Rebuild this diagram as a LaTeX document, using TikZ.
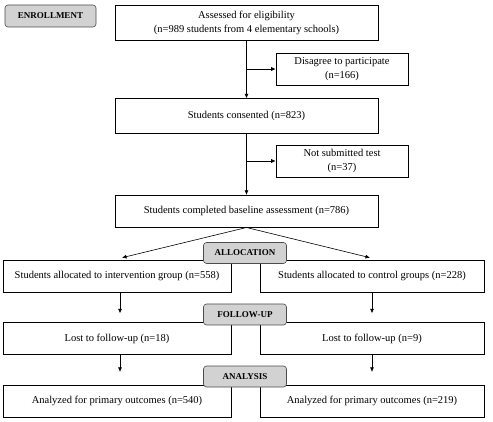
\documentclass[tikz,border=0pt]{standalone}
\usepackage{fontspec}
\setmainfont{Liberation Serif}
\usetikzlibrary{arrows.meta,positioning}

\begin{document}
\begin{tikzpicture}[
    x=1pt, y=-1pt,
    font=\fontsize{10.5}{14}\selectfont,
    >={Latex[length=4.5pt,width=4pt]},
    block/.style={draw, line width=0.6pt, align=center, inner sep=1mm},
    wide/.style={block, minimum width=263, minimum height=35},
    side/.style={block, minimum width=132, minimum height=32},
    half/.style={block, minimum width=228, minimum height=32},
    stage/.style={draw=black!70, line width=0.6pt, rounded corners=3pt, fill=gray!35, font=\bfseries\fontsize{9}{10}\selectfont, minimum width=83, minimum height=21},
    line/.style={->, line width=0.6pt}
]
\useasboundingbox (0,0) rectangle (493,422);

% Enrollment (top column)
\node[stage, minimum width=91, minimum height=22] (enroll) at (50.5,16) {ENROLLMENT};
\node[wide] (assess) at (246.5,22.5) {Assessed for eligibility\\(n=989 students from 4 elementary schools)};
\node[wide, below=58pt of assess] (consent) {Students consented (n=823)};
\node[wide, minimum height=32, below=61pt of consent] (base) {Students completed baseline assessment (n=786)};

% Exclusions (right side)
\node[side] (disagree) at (342,69) {Disagree to participate\\(n=166)};
\node[side] (notsub) at (342,161) {Not submitted test\\(n=37)};

% Two arms
\node[half] (intv) at (117,276) {Students allocated to intervention group (n=558)};
\node[half, minimum width=224] (ctrl) at (372,276) {Students allocated to control groups (n=228)};
\node[half, below=30pt of intv] (lostA) {Lost to follow-up (n=18)};
\node[half, minimum width=224, below=30pt of ctrl] (lostB) {Lost to follow-up (n=9)};
\node[half, below=30pt of lostA] (anaA) {Analyzed for primary outcomes (n=540)};
\node[half, minimum width=224, below=30pt of lostB] (anaB) {Analyzed for primary outcomes (n=219)};

% Stage labels (drawn over the arms)
\node[stage] (alloc) at (245,253) {ALLOCATION};
\node[stage] (follow) at (245,314.5) {FOLLOW-UP};
\node[stage] (analysis) at (245,376.5) {ANALYSIS};

% Enrollment flow
\draw[line] (assess) -- (consent);
\draw[line] (assess.south |- disagree.west) -- (disagree);
\draw[line] (consent) -- (base);
\draw[line] (consent.south |- notsub.west) -- (notsub);

% Split into arms
\draw[line] (base.south) -- ([xshift=5pt,yshift=2pt]intv.north);
\draw[line] (base.south) -- ([xshift=-2pt,yshift=2pt]ctrl.north);

% Arms down
\draw[line, shorten >=9pt] ([xshift=3pt]intv.south) -- ([xshift=3pt]lostA.north);
\draw[line, shorten >=9pt] (ctrl) -- (lostB);
\draw[line, shorten >=13pt] ([xshift=3pt]lostA.south) -- ([xshift=3pt]anaA.north);
\draw[line, shorten >=13pt] (lostB) -- (anaB);

\end{tikzpicture}
\end{document}
